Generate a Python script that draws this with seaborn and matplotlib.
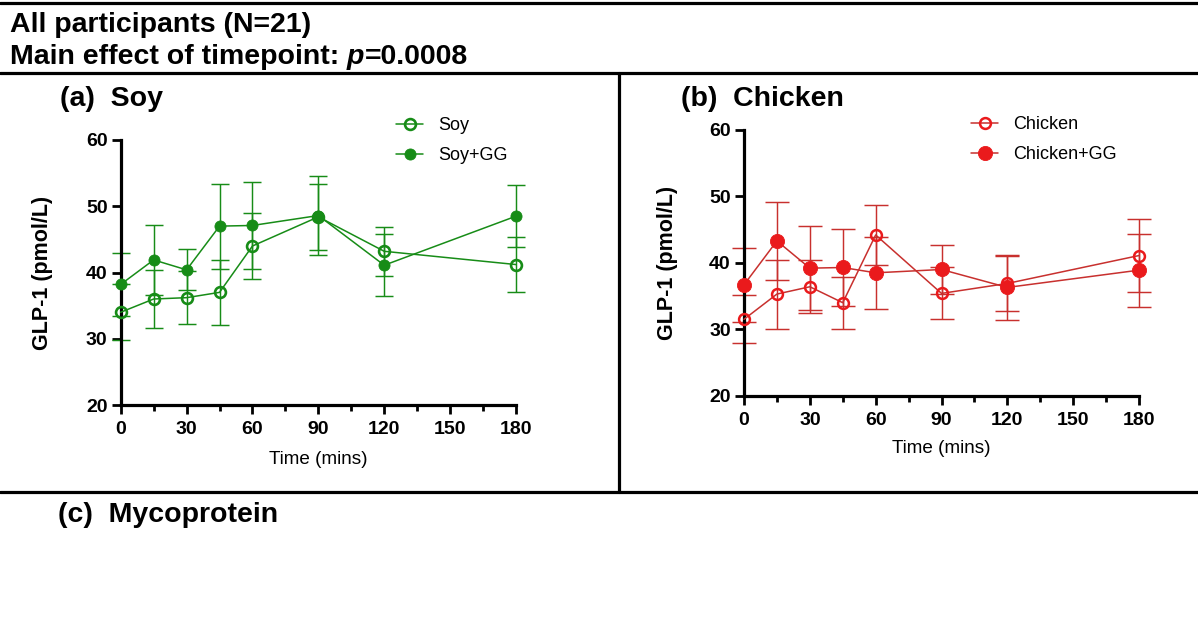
import numpy as np
import pandas as pd
import matplotlib
matplotlib.use("Agg")
import matplotlib.pyplot as plt
from matplotlib.lines import Line2D
import seaborn as sns

# ---------------- data ----------------
time = [0, 15, 30, 45, 60, 90, 120, 180]

soy_mean = [34.0, 36.0, 36.2, 37.0, 44.0, 48.4, 43.2, 41.2]
soy_sem = [4.2, 4.4, 4.0, 4.9, 5.0, 5.0, 3.7, 4.2]
soygg_mean = [38.2, 41.9, 40.4, 47.0, 47.1, 48.6, 41.1, 48.5]
soygg_sem = [4.8, 5.3, 3.1, 6.4, 6.5, 5.9, 4.7, 4.7]

chicken_mean = [31.5, 35.3, 36.4, 34.0, 44.2, 35.4, 36.9, 41.1]
chicken_sem = [3.6, 5.2, 4.0, 3.9, 4.5, 3.9, 4.2, 5.5]
chickengg_mean = [36.7, 43.3, 39.2, 39.3, 38.5, 39.0, 36.3, 38.9]
chickengg_sem = [5.6, 5.9, 6.3, 5.8, 5.4, 3.7, 4.9, 5.5]

x_ticks = [0, 30, 60, 90, 120, 150, 180]
x_minor = [15, 45, 75, 105, 135, 165]
y_ticks = [20, 30, 40, 50, 60]

# ---------------- style ----------------
sns.set_style("ticks")
plt.rcParams['font.family'] = ['Liberation Sans', 'DejaVu Sans']
for k in ['text.color', 'axes.labelcolor', 'xtick.color', 'ytick.color', 'axes.edgecolor']:
    plt.rcParams[k] = 'black'

W, H = 1198, 630
fig = plt.figure(figsize=(W / 100, H / 100), dpi=100)

GREEN = '#178c17'
RED_M = '#ea1a1c'
RED_L = '#c8302e'


def px_rect(l, t, r, b):
    return [l / W, 1 - b / H, (r - l) / W, (b - t) / H]


def draw_series(ax, mean, sem, color, mcolor, filled, ms, mew, cap, label):
    ax.errorbar(time, mean, yerr=sem, fmt='none', ecolor=color, elinewidth=1.05,
                capsize=cap, capthick=1.05, clip_on=False, zorder=2)
    df = pd.DataFrame({'t': time, 'v': mean})
    sns.lineplot(data=df, x='t', y='v', ax=ax, color=color, linewidth=1.1,
                 marker='o', markersize=ms,
                 markerfacecolor=mcolor if filled else 'none',
                 markeredgecolor=mcolor, markeredgewidth=mew,
                 clip_on=False, zorder=3, legend=False)
    return Line2D([0], [0], color=color, linewidth=1.1, marker='o', markersize=ms,
                  markerfacecolor=mcolor if filled else 'none',
                  markeredgecolor=mcolor, markeredgewidth=mew, label=label)


def style_axis(ax, xlab_y):
    ax.set_xlim(0, 180)
    ax.set_ylim(20, 60)
    ax.set_xticks(x_ticks)
    ax.set_xticks(x_minor, minor=True)
    ax.set_yticks(y_ticks)
    sns.despine(ax=ax)
    for s in ['left', 'bottom']:
        ax.spines[s].set_linewidth(2.3)
        ax.spines[s].set_color('black')
    ax.tick_params(axis='both', which='major', length=6.5, width=2.0,
                   labelsize=14, direction='out', color='black', labelcolor='black')
    ax.tick_params(axis='x', which='major', pad=5)
    ax.tick_params(axis='y', which='major', pad=3)
    ax.tick_params(axis='x', which='minor', length=4, width=2.0, direction='out', color='black')
    for lab in ax.get_xticklabels() + ax.get_yticklabels():
        lab.set_fontweight('bold')
    ax.set_xlabel('Time (mins)', fontsize=13.6, color='black')
    ax.xaxis.set_label_coords(0.5, xlab_y)
    ax.set_ylabel('GLP-1 (pmol/L)', fontsize=15.5, fontweight='bold', color='black')
    ax.grid(False)
    ax.set_facecolor('none')


# ---------------- panel (a) ----------------
axa = fig.add_axes(px_rect(120.7, 140, 516, 405))
h1 = draw_series(axa, soy_mean, soy_sem, GREEN, GREEN, False, 7.8, 1.9, 6.2, 'Soy')
h2 = draw_series(axa, soygg_mean, soygg_sem, GREEN, GREEN, True, 8.0, 0.6, 6.2, 'Soy+GG')
style_axis(axa, -0.172)
axa.yaxis.set_label_coords(-0.170, 0.5)
axa.legend(handles=[h1, h2], loc='upper left', bbox_to_anchor=(396 / W, 1 - 117 / H),
           bbox_transform=fig.transFigure, frameon=False, fontsize=13,
           handlelength=1.5, handletextpad=0.85, labelspacing=0.72,
           borderpad=0, borderaxespad=0)

# ---------------- panel (b) ----------------
axb = fig.add_axes(px_rect(744, 130, 1139, 395.7))
h3 = draw_series(axb, chicken_mean, chicken_sem, RED_L, RED_M, False, 7.8, 1.8, 8.4, 'Chicken')
h4 = draw_series(axb, chickengg_mean, chickengg_sem, RED_L, RED_M, True, 10.2, 0.6, 8.4, 'Chicken+GG')
style_axis(axb, -0.165)
axb.yaxis.set_label_coords(-0.166, 0.5)
axb.legend(handles=[h3, h4], loc='upper left', bbox_to_anchor=(971 / W, 1 - 116 / H),
           bbox_transform=fig.transFigure, frameon=False, fontsize=13,
           handlelength=1.5, handletextpad=0.85, labelspacing=0.72,
           borderpad=0, borderaxespad=0)

# ---------------- frame lines ----------------
LW = 2.3
for yy in [3, 73, 492]:
    fig.add_artist(Line2D([0, 1], [1 - yy / H] * 2, transform=fig.transFigure,
                          color='black', linewidth=LW))
fig.add_artist(Line2D([619 / W] * 2, [1 - 73 / H, 1 - 492 / H], transform=fig.transFigure,
                      color='black', linewidth=LW))

# ---------------- header texts ----------------
TFS = 20.5
fig.text(10 / W, 1 - 32 / H, 'All participants (N=21)', fontsize=TFS, fontweight='bold',
         va='baseline', ha='left', color='black')
t1 = fig.text(10 / W, 1 - 64 / H, 'Main effect of timepoint: ', fontsize=TFS,
              fontweight='bold', va='baseline', ha='left', color='black')
fig.canvas.draw()
r = fig.canvas.get_renderer()
bb = t1.get_window_extent(renderer=r)
t2 = fig.text(bb.x1 / W, 1 - 64 / H, 'p', fontsize=TFS, fontweight='bold', style='italic',
              va='baseline', ha='left', color='black')
bb2 = t2.get_window_extent(renderer=r)
fig.text(bb2.x1 / W, 1 - 64 / H, '=0.0008', fontsize=TFS, fontweight='bold',
         va='baseline', ha='left', color='black')

fig.text(60 / W, 1 - 106 / H, '(a)  Soy', fontsize=TFS, fontweight='bold', va='baseline',
         ha='left', color='black')
fig.text(681 / W, 1 - 106 / H, '(b)  Chicken', fontsize=TFS, fontweight='bold', va='baseline',
         ha='left', color='black')
fig.text(58 / W, 1 - 522 / H, '(c)  Mycoprotein', fontsize=TFS, fontweight='bold', va='baseline',
         ha='left', color='black')

fig.savefig('out.png', dpi=100, facecolor='white')
